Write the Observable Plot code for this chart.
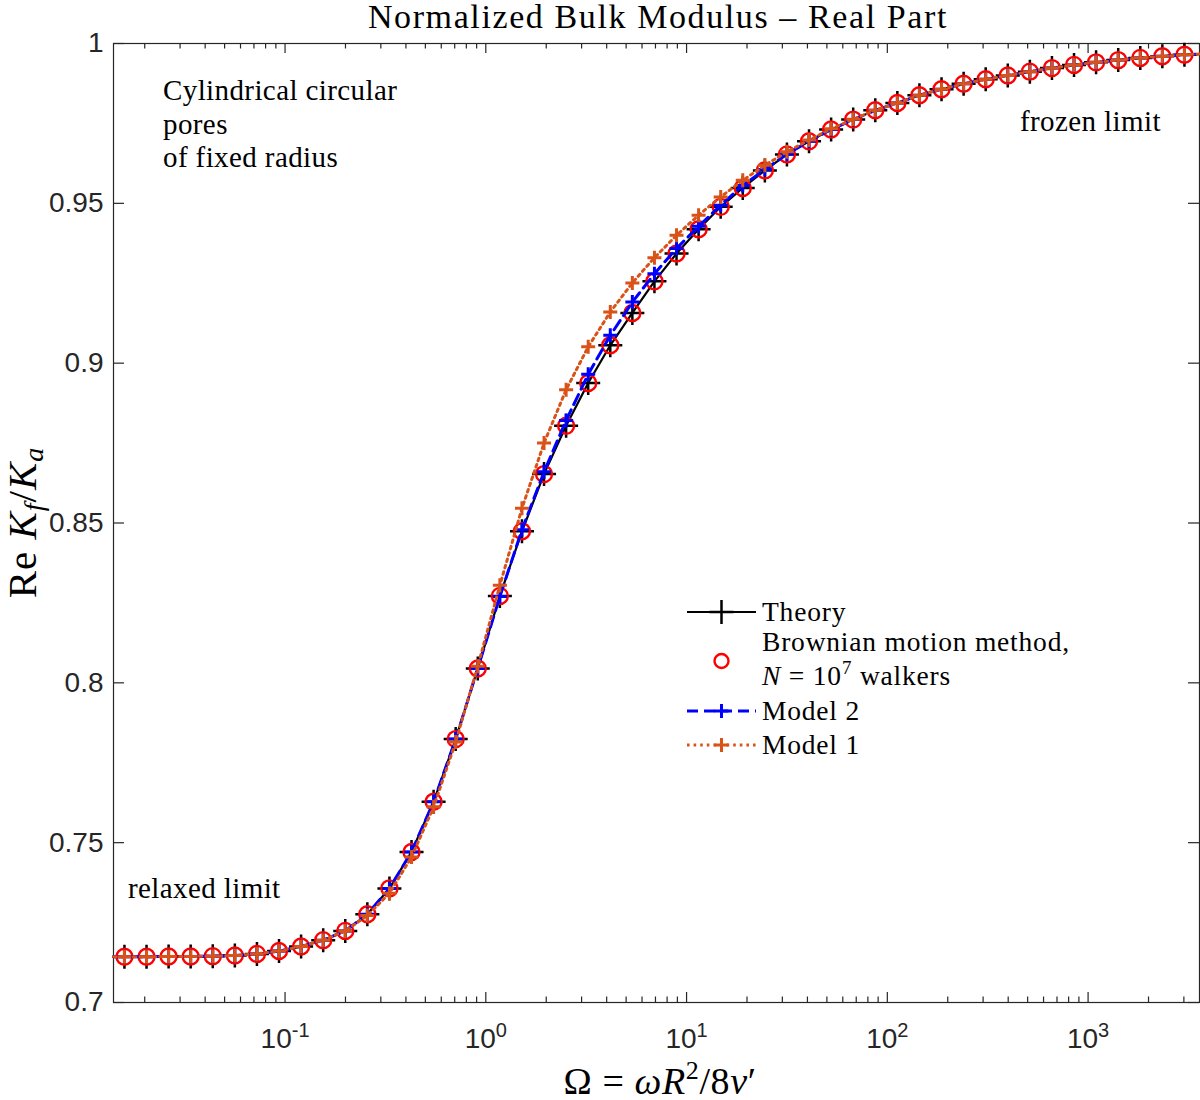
<!DOCTYPE html>
<html><head><meta charset="utf-8">
<script src="https://cdn.jsdelivr.net/npm/d3@7"></script>
<script src="https://cdn.jsdelivr.net/npm/@observablehq/plot@0.6"></script>
<style>
body{margin:0;background:#fff;}
#chart{width:1200px;height:1100px;}
</style></head><body><div id="chart"></div>
<script>
// ---- data ----
const omega = [0.01585, 0.02042, 0.0263, 0.03388, 0.04365, 0.05623, 0.07244, 0.09333, 0.1202, 0.1549,
  0.1995, 0.257, 0.3311, 0.4266, 0.5495, 0.7079, 0.912, 1.175, 1.514, 1.95,
  2.512, 3.236, 4.169, 5.37, 6.918, 8.913, 11.48, 14.79, 19.05, 24.55,
  31.62, 40.74, 52.48, 67.61, 87.1, 112.2, 144.5, 186.2, 239.9, 309,
  398.1, 512.9, 660.7, 851.1, 1096, 1413, 1820, 2344, 3020];
const theory = [0.7143, 0.7143, 0.7144, 0.7144, 0.7145, 0.7147, 0.7152, 0.7161, 0.7175, 0.7195,
  0.7224, 0.7276, 0.7357, 0.7471, 0.7628, 0.7824, 0.8045, 0.8272, 0.8474, 0.8653,
  0.8804, 0.8938, 0.9056, 0.9157, 0.9256, 0.9343, 0.9419, 0.9489, 0.9548, 0.9603,
  0.9653, 0.9694, 0.9731, 0.9762, 0.9791, 0.9814, 0.9838, 0.9857, 0.9874, 0.9888,
  0.9900, 0.9912, 0.9923, 0.9933, 0.9941, 0.9948, 0.9955, 0.9960, 0.9965];
const brownian = [0.7143, 0.7143, 0.7144, 0.7144, 0.7145, 0.7147, 0.7152, 0.7161, 0.7175, 0.7195,
  0.7224, 0.7276, 0.7357, 0.7471, 0.7628, 0.7824, 0.8045, 0.8272, 0.8474, 0.8653,
  0.8804, 0.8938, 0.9056, 0.9157, 0.9256, 0.9343, 0.9419, 0.9489, 0.9548, 0.9603,
  0.9653, 0.9694, 0.9731, 0.9762, 0.9791, 0.9814, 0.9838, 0.9857, 0.9874, 0.9888,
  0.9900, 0.9912, 0.9923, 0.9933, 0.9941, 0.9948, 0.9955, 0.9960, 0.9965];
const model2 = [0.7143, 0.7143, 0.7144, 0.7144, 0.7145, 0.7147, 0.7152, 0.7161, 0.7175, 0.7195,
  0.7224, 0.7276, 0.7357, 0.7471, 0.7628, 0.7824, 0.8045, 0.8270, 0.8479, 0.8660,
  0.8821, 0.8965, 0.9087, 0.9191, 0.9280, 0.9359, 0.9428, 0.9494, 0.9556, 0.9606,
  0.9654, 0.9694, 0.9731, 0.9762, 0.9791, 0.9814, 0.9838, 0.9857, 0.9874, 0.9888,
  0.9900, 0.9912, 0.9923, 0.9933, 0.9941, 0.9948, 0.9955, 0.9960, 0.9965];
const model1 = [0.7143, 0.7143, 0.7144, 0.7144, 0.7145, 0.7147, 0.7152, 0.7161, 0.7175, 0.7195,
  0.7224, 0.7272, 0.7342, 0.7455, 0.7612, 0.7815, 0.8052, 0.8305, 0.8546, 0.8750,
  0.8917, 0.9051, 0.9160, 0.9251, 0.9330, 0.9400, 0.9463, 0.9520, 0.9572, 0.9619,
  0.9661, 0.9698, 0.9733, 0.9763, 0.9791, 0.9814, 0.9838, 0.9857, 0.9874, 0.9888,
  0.9900, 0.9912, 0.9923, 0.9933, 0.9941, 0.9948, 0.9955, 0.9960, 0.9965];
// curves continue to the edges of the axes
const omegaEnds = [0.01398, 3589];
const curveEnds = [0.7143, 0.9967];

const xMajorTicks = [0.1, 1, 10, 100, 1000];
const xTickLabels = ["10^-1", "10^0", "10^1", "10^2", "10^3"];
const yTicks = [0.7, 0.75, 0.8, 0.85, 0.9, 0.95, 1];
const yTickLabels = ["0.7", "0.75", "0.8", "0.85", "0.9", "0.95", "1"];

// ---- layout / style ----
const W = 1200, H = 1100, mL = 113, mR = 1, mT = 43, mB = 98;
const innerW = W - mL - mR, innerH = H - mT - mB;
const axisColor = "#262626";
const serif = "'Liberation Serif', 'Times New Roman', serif";
const sans = "'Liberation Sans', Arial, Helvetica, sans-serif";
const cBlack = "#000000", cRed = "#ff0000", cBlue = "#0000ff", cOrange = "#d95319";
const dashM2 = "11,6", dashM1 = "2.6,4";

const rows = omega.map((w, i) => ({w, theory: theory[i], brownian: brownian[i], model2: model2[i], model1: model1[i]}));
const withEnds = key => [{w: omegaEnds[0], v: curveEnds[0]}, ...rows.map(r => ({w: r.w, v: r[key]})), {w: omegaEnds[1], v: curveEnds[1]}];

const xMinorTicks = [];
for (let e = -2; e <= 3; e++) for (let m = 2; m <= 9; m++) {
  const v = m * Math.pow(10, e);
  if (v > omegaEnds[0] && v < omegaEnds[1]) xMinorTicks.push(v);
}

const plusSymbol = {draw(ctx, size) { const r = Math.sqrt(size / Math.PI); ctx.moveTo(-r, 0); ctx.lineTo(r, 0); ctx.moveTo(0, -r); ctx.lineTo(0, r); }};

const svg = Plot.plot({
  width: W, height: H, marginLeft: mL, marginRight: mR, marginTop: mT, marginBottom: mB,
  style: {fontFamily: sans, fontSize: "27px", color: axisColor, background: "white", overflow: "visible"},
  x: {type: "log", domain: omegaEnds},
  y: {domain: [0.7, 1]},
  marks: [
    Plot.frame({stroke: axisColor, strokeWidth: 1.2}),
    Plot.tickX(xMajorTicks, {x: d => d, insetTop: innerH - 10, stroke: axisColor, strokeWidth: 1.2}),
    Plot.tickX(xMajorTicks, {x: d => d, insetBottom: innerH - 10, stroke: axisColor, strokeWidth: 1.2}),
    Plot.tickX(xMinorTicks, {x: d => d, insetTop: innerH - 5.5, stroke: axisColor, strokeWidth: 1.2}),
    Plot.tickX(xMinorTicks, {x: d => d, insetBottom: innerH - 5.5, stroke: axisColor, strokeWidth: 1.2}),
    Plot.tickY(yTicks, {y: d => d, insetRight: innerW - 11, stroke: axisColor, strokeWidth: 1.2}),
    Plot.tickY(yTicks, {y: d => d, insetLeft: innerW - 11, stroke: axisColor, strokeWidth: 1.2}),
    Plot.axisX(xMajorTicks, {anchor: "bottom", tickSize: 0, tickPadding: 26, label: null,
      tickFormat: d => xTickLabels[xMajorTicks.indexOf(d)], fontSize: 28, fontFamily: sans, fill: axisColor}),
    Plot.axisY(yTicks, {anchor: "left", tickSize: 0, tickPadding: 10, label: null,
      tickFormat: d => yTickLabels[yTicks.indexOf(d)], fontSize: 28, fontFamily: sans, fill: axisColor}),
    // Theory
    Plot.line(withEnds("theory"), {x: "w", y: "v", stroke: cBlack, strokeWidth: 2.2}),
    Plot.dot(rows, {x: "w", y: "theory", symbol: plusSymbol, r: 12, stroke: cBlack, strokeWidth: 2.5, fill: "none"}),
    // Brownian motion
    Plot.dot(rows, {x: "w", y: "brownian", r: 8, stroke: cRed, strokeWidth: 2.4, fill: "none"}),
    // Model 2
    Plot.line(withEnds("model2"), {x: "w", y: "v", stroke: cBlue, strokeWidth: 3, strokeDasharray: dashM2}),
    Plot.dot(rows, {x: "w", y: "model2", symbol: plusSymbol, r: 7, stroke: cBlue, strokeWidth: 3, fill: "none"}),
    // Model 1
    Plot.line(withEnds("model1"), {x: "w", y: "v", stroke: cOrange, strokeWidth: 3, strokeDasharray: dashM1}),
    Plot.dot(rows, {x: "w", y: "model1", symbol: plusSymbol, r: 7, stroke: cOrange, strokeWidth: 3, fill: "none"})
  ]
});

// font sizes of tick labels, and superscripts in the x tick labels
svg.querySelectorAll('g[aria-label="y-axis tick label"]').forEach(g => g.setAttribute("font-size", 28));
svg.querySelectorAll('g[aria-label="x-axis tick label"]').forEach(g => g.setAttribute("font-size", 28));
svg.querySelectorAll('g[aria-label="x-axis tick label"] text').forEach(t => {
  const [base, exp] = t.textContent.split("^");
  t.textContent = "";
  const s = d3.select(t);
  s.append("tspan").text(base);
  s.append("tspan").attr("dy", -11).attr("font-size", 20).text(exp);
});

const root = d3.select(svg);
const xc = mL + innerW / 2;

// title
root.append("text").attr("x", xc + 2).attr("y", 28).attr("text-anchor", "middle")
  .attr("font-family", serif).attr("font-size", 34).attr("letter-spacing", 1.6).attr("fill", "#000")
  .text("Normalized Bulk Modulus – Real Part");

// x label
const xl = root.append("text").attr("x", xc + 4).attr("y", 1094).attr("text-anchor", "middle")
  .attr("font-family", serif).attr("font-size", 38).attr("letter-spacing", 0.6).attr("fill", "#000");
xl.append("tspan").text("Ω = ");
xl.append("tspan").attr("font-style", "italic").text("ωR");
xl.append("tspan").attr("font-size", 26).attr("dy", -15).text("2");
xl.append("tspan").attr("dy", 15).text("/8");
xl.append("tspan").attr("font-style", "italic").text("ν");
xl.append("tspan").text("′");

// y label
const yl = root.append("text").attr("transform", `translate(36,${mT + innerH / 2}) rotate(-90)`).attr("text-anchor", "middle")
  .attr("font-family", serif).attr("font-size", 41).attr("letter-spacing", 1).attr("fill", "#000");
yl.append("tspan").text("Re ");
yl.append("tspan").attr("font-style", "italic").text("K");
yl.append("tspan").attr("font-style", "italic").attr("font-size", 28).attr("dy", 7).text("f");
yl.append("tspan").attr("dy", -7).text("/");
yl.append("tspan").attr("font-style", "italic").text("K");
yl.append("tspan").attr("font-style", "italic").attr("font-size", 28).attr("dy", 7).text("a");

// annotations
const note = (x, y, s) => root.append("text").attr("x", x).attr("y", y).attr("text-anchor", "start")
  .attr("font-family", serif).attr("font-size", 29).attr("letter-spacing", 0.4).attr("fill", "#000").text(s);
note(163, 100, "Cylindrical circular");
note(163, 134, "pores");
note(163, 167, "of fixed radius");
note(1020, 131, "frozen limit");
note(128, 898, "relaxed limit");

// legend
const lg = root.append("g");
const lx0 = 687, lx1 = 756, lxm = 721.5, tx = 762;
const plusPath = r => `M${-r},0H${r}M0,${-r}V${r}`;
const legText = y => lg.append("text").attr("x", tx).attr("y", y).attr("text-anchor", "start")
  .attr("font-family", serif).attr("font-size", 27.5).attr("letter-spacing", 0.8).attr("fill", "#000");
// Theory
lg.append("line").attr("x1", lx0).attr("x2", lx1).attr("y1", 612).attr("y2", 612).attr("stroke", cBlack).attr("stroke-width", 2.2);
lg.append("path").attr("d", plusPath(12)).attr("transform", `translate(${lxm},612)`).attr("stroke", cBlack).attr("stroke-width", 2.5).attr("fill", "none");
legText(621).text("Theory");
// Brownian
lg.append("circle").attr("cx", lxm).attr("cy", 661).attr("r", 7).attr("stroke", cRed).attr("stroke-width", 2.4).attr("fill", "none");
legText(651).text("Brownian motion method,");
const l2 = legText(685);
l2.append("tspan").attr("font-style", "italic").text("N");
l2.append("tspan").text(" = 10");
l2.append("tspan").attr("font-size", 19).attr("dy", -11).text("7");
l2.append("tspan").attr("dy", 11).text(" walkers");
// Model 2
lg.append("line").attr("x1", lx0).attr("x2", lx1).attr("y1", 711).attr("y2", 711).attr("stroke", cBlue).attr("stroke-width", 3).attr("stroke-dasharray", dashM2);
lg.append("path").attr("d", plusPath(7)).attr("transform", `translate(${lxm},711)`).attr("stroke", cBlue).attr("stroke-width", 3).attr("fill", "none");
legText(720).text("Model 2");
// Model 1
lg.append("line").attr("x1", lx0).attr("x2", lx1).attr("y1", 745).attr("y2", 745).attr("stroke", cOrange).attr("stroke-width", 3).attr("stroke-dasharray", dashM1);
lg.append("path").attr("d", plusPath(7)).attr("transform", `translate(${lxm},745)`).attr("stroke", cOrange).attr("stroke-width", 3).attr("fill", "none");
legText(754).text("Model 1");

document.getElementById("chart").appendChild(svg);
</script>
</body></html>
